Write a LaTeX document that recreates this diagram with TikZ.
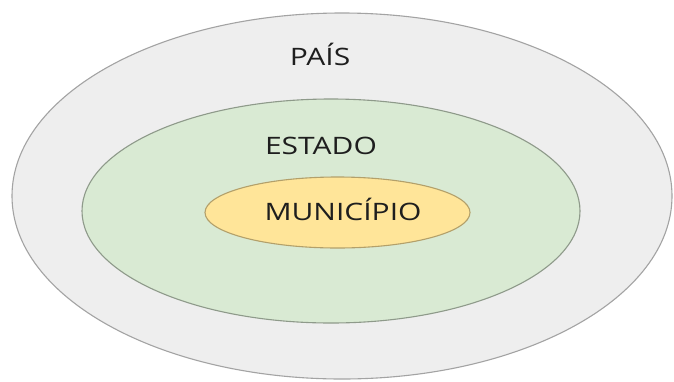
\documentclass[tikz,border=0pt]{standalone}
\usepackage{fontspec}
\setmainfont{Open Sans}
\usetikzlibrary{shapes.geometric}
\definecolor{paisfill}{HTML}{EEEEEE}
\definecolor{paisline}{HTML}{A3A3A3}
\definecolor{estfill}{HTML}{D9EAD3}
\definecolor{estline}{HTML}{8E9A8A}
\definecolor{munfill}{HTML}{FFE599}
\definecolor{munline}{HTML}{B3A06A}
\definecolor{txt}{HTML}{1E1E1E}
\tikzset{
  region/.style={ellipse, inner sep=0pt, line width=1.1pt},
  lbl/.style={anchor=base, text=txt, font=\fontsize{24}{27}\selectfont, xscale=1.25, inner sep=0pt}
}
\begin{document}
\begin{tikzpicture}[x=1pt,y=-1pt]
\useasboundingbox[fill=white] (0,0) rectangle (674,381);
\node[region, draw=paisline, fill=paisfill, minimum width=660pt, minimum height=366pt] (pais) at (342,196) {};
\node[region, draw=estline, fill=estfill, minimum width=498pt, minimum height=224pt] (estado) at (331,211) {};
\node[region, draw=munline, fill=munfill, minimum width=265pt, minimum height=71pt] (mun) at (337.5,212.5) {};
\node[lbl] (tpais) at (320,65.7) {PAÍS};
\node[lbl] (testado) at (321,154) {ESTADO};
\node[lbl] (tmun) at (343,220.5) {MUNICÍPIO};
\end{tikzpicture}
\end{document}
